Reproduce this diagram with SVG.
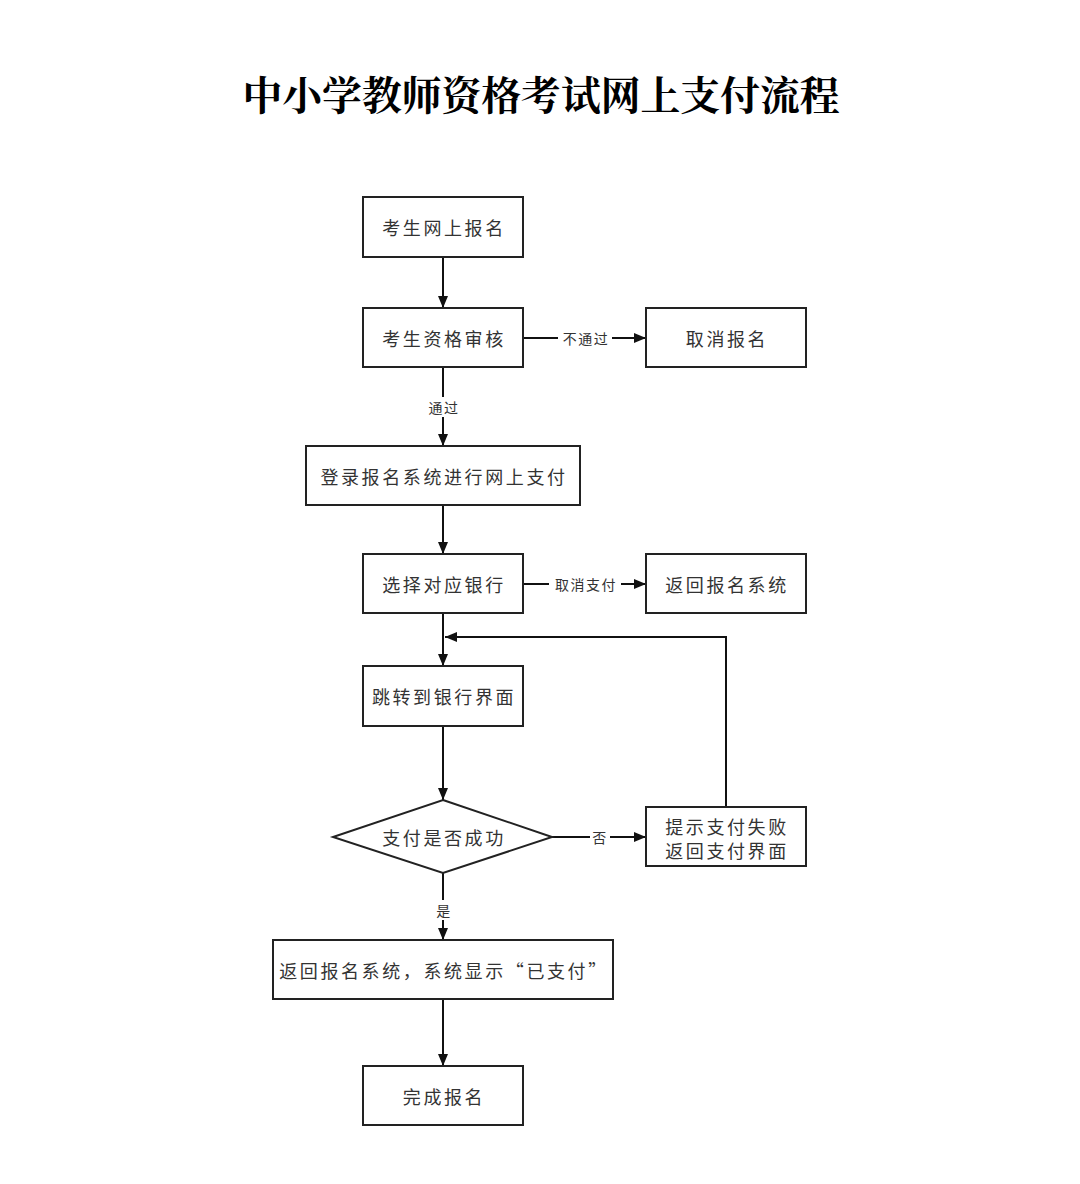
<svg xmlns="http://www.w3.org/2000/svg" width="1080" height="1184" viewBox="0 0 1080 1184">
<defs>
<style>
.box{fill:#fff;stroke:#222;stroke-width:2}
.t{font-family:"Noto Sans CJK SC","Noto Sans",sans-serif;font-size:18px;fill:#333;text-anchor:middle;dominant-baseline:central;letter-spacing:2.6px}
.lbl{font-family:"Noto Sans CJK SC","Noto Sans",sans-serif;font-size:14px;fill:#333;text-anchor:middle;dominant-baseline:central;letter-spacing:1.5px}
.ln{fill:none;stroke:#111;stroke-width:2}
.bg{fill:#fff}
.title{font-family:"Noto Serif CJK SC","Noto Sans CJK SC",serif;font-size:40px;font-weight:bold;fill:#000;text-anchor:middle;dominant-baseline:central}
</style>
<marker id="ah" viewBox="0 0 12 10" refX="12" refY="5" markerWidth="12" markerHeight="10" markerUnits="userSpaceOnUse" orient="auto">
<path d="M0,0 L12,5 L0,10 Z" fill="#111"/>
</marker>
</defs>
<rect width="1080" height="1184" fill="#fff"/>
<text class="title" x="541" y="92" textLength="597" lengthAdjust="spacingAndGlyphs">中小学教师资格考试网上支付流程</text>

<g id="connectors">
<line class="ln" x1="443" y1="257" x2="443" y2="308" marker-end="url(#ah)"/>
<line class="ln" x1="523" y1="338" x2="646" y2="338" marker-end="url(#ah)"/>
<rect class="bg" x="558" y="329" width="54" height="18"/>
<text class="lbl" x="586" y="338">不通过</text>
<line class="ln" x1="443" y1="367" x2="443" y2="446" marker-end="url(#ah)"/>
<rect class="bg" x="426" y="397" width="36" height="20"/>
<text class="lbl" x="444" y="407">通过</text>
<line class="ln" x1="443" y1="505" x2="443" y2="554" marker-end="url(#ah)"/>
<line class="ln" x1="523" y1="584" x2="646" y2="584" marker-end="url(#ah)"/>
<rect class="bg" x="549" y="575" width="72" height="18"/>
<text class="lbl" x="586" y="584">取消支付</text>
<line class="ln" x1="443" y1="613" x2="443" y2="666" marker-end="url(#ah)"/>
<polyline class="ln" points="726,807 726,637 445,637" marker-end="url(#ah)"/>
<line class="ln" x1="443" y1="726" x2="443" y2="800" marker-end="url(#ah)"/>
<line class="ln" x1="552" y1="837" x2="646" y2="837" marker-end="url(#ah)"/>
<rect class="bg" x="590" y="828" width="20" height="18"/>
<text class="lbl" x="600" y="837">否</text>
<line class="ln" x1="443" y1="873" x2="443" y2="940" marker-end="url(#ah)"/>
<rect class="bg" x="433" y="900" width="20" height="20"/>
<text class="lbl" x="444" y="910">是</text>
<line class="ln" x1="443" y1="999" x2="443" y2="1066" marker-end="url(#ah)"/>
</g>

<g id="n1"><rect class="box" x="363" y="197" width="160" height="60"/><text class="t" x="444" y="227">考生网上报名</text></g>
<g id="n2"><rect class="box" x="363" y="308" width="160" height="59"/><text class="t" x="444" y="338">考生资格审核</text></g>
<g id="n3"><rect class="box" x="646" y="308" width="160" height="59"/><text class="t" x="727" y="338">取消报名</text></g>
<g id="n4"><rect class="box" x="306" y="446" width="274" height="59"/><text class="t" x="444" y="476">登录报名系统进行网上支付</text></g>
<g id="n5"><rect class="box" x="363" y="554" width="160" height="59"/><text class="t" x="444" y="584">选择对应银行</text></g>
<g id="n6"><rect class="box" x="646" y="554" width="160" height="59"/><text class="t" x="727" y="584">返回报名系统</text></g>
<g id="n7"><rect class="box" x="363" y="666" width="160" height="60"/><text class="t" x="444" y="696">跳转到银行界面</text></g>
<g id="n8"><polygon class="box" points="443,800 552,837 443,873 333,837"/><text class="t" x="444" y="837">支付是否成功</text></g>
<g id="n9"><rect class="box" x="646" y="807" width="160" height="59"/><text class="t" x="727" y="826">提示支付失败</text><text class="t" x="727" y="850">返回支付界面</text></g>
<g id="n10"><rect class="box" x="273" y="940" width="340" height="59"/><text class="t" x="444" y="970">返回报名系统，系统显示“已支付”</text></g>
<g id="n11"><rect class="box" x="363" y="1066" width="160" height="59"/><text class="t" x="444" y="1096">完成报名</text></g>
</svg>
